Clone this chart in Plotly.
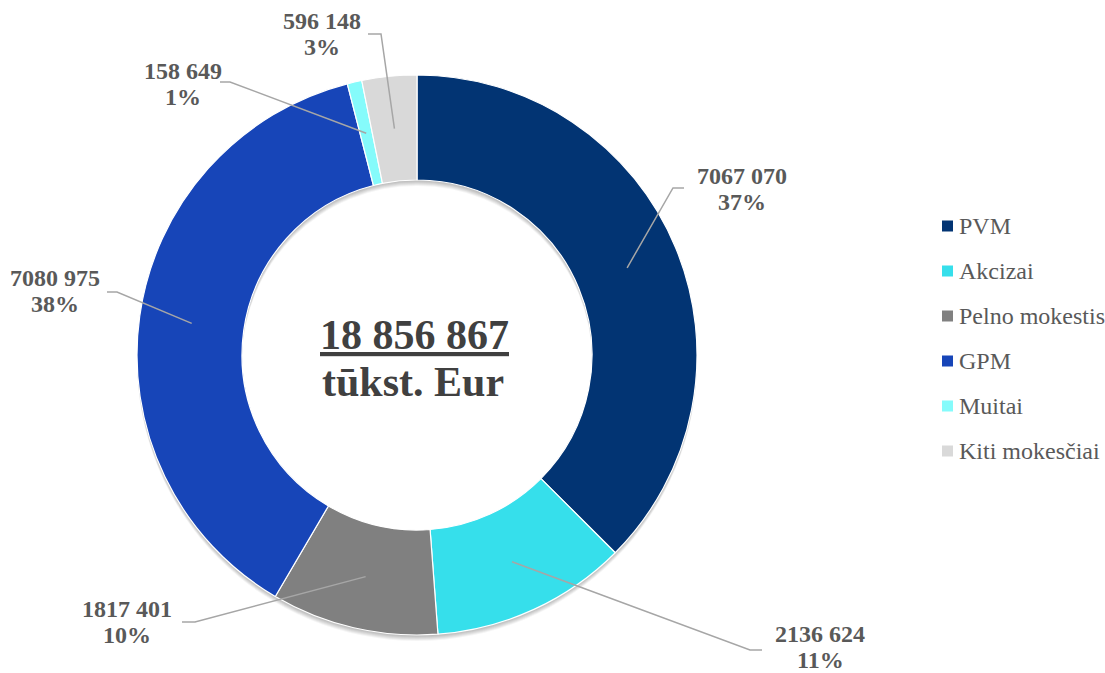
import math
import plotly.graph_objects as go

categories = ["PVM", "Akcizai", "Pelno mokestis", "GPM", "Muitai", "Kiti mokesčiai"]
values = [7067070, 2136624, 1817401, 7080975, 158649, 596148]
colors = ["#023473", "#36DFEB", "#808080", "#1745B8", "#85FBFB", "#D9D9D9"]
total_label = "18 856 867"
unit_label = "tūkst. Eur"

W, H = 1105, 673
CX, CY, R_OUT = 417, 355, 280
HOLE = 0.625

def px(x):
    return x / W

def py(y):
    return 1 - y / H

def fmt(v):
    s = str(v)
    return s[:-3] + " " + s[-3:]

total = sum(values)

fig = go.Figure()

# soft drop shadow layers
for dy, alpha in [(1, 0.05), (2, 0.05), (3, 0.05), (4, 0.05), (5, 0.05), (6, 0.04)]:
    fig.add_trace(go.Pie(
        labels=["shadow"], values=[1], hole=HOLE, sort=False,
        marker=dict(colors=[f"rgba(0,0,0,{alpha})"], line=dict(width=0)),
        textinfo="none", showlegend=False, hoverinfo="skip",
        domain=dict(x=[px(CX - R_OUT), px(CX + R_OUT)],
                    y=[py(CY + R_OUT + dy), py(CY - R_OUT + dy)]),
    ))

fig.add_trace(go.Pie(
    labels=categories, values=values, hole=HOLE, sort=False,
    direction="clockwise", rotation=0,
    marker=dict(colors=colors, line=dict(color="white", width=1.2)),
    textinfo="none", showlegend=False,
    domain=dict(x=[px(CX - R_OUT), px(CX + R_OUT)], y=[py(CY + R_OUT), py(CY - R_OUT)]),
))

# label layout: (label center x, y, elbow x, elbow y, end x)
label_layout = [
    (742, 189, 673, 188, 684),
    (820, 647, 750, 650, 762),
    (127, 622, 195, 622, 182),
    (55, 291, 117, 292, 107),
    (183, 84, 230, 82, 220),
    (322, 34, 381, 34, 368),
]

shapes = []
annotations = []
cum = 0
r_mid = R_OUT * (1 + HOLE) / 2
lab_font = dict(family="Liberation Serif", size=24, color="#595959")
for i, v in enumerate(values):
    frac_mid = (cum + v / 2) / total
    cum += v
    ang = 2 * math.pi * frac_mid
    sx = CX + r_mid * math.sin(ang)
    sy = CY - r_mid * math.cos(ang)
    lx, ly, ex, ey, endx = label_layout[i]
    path = f"M {px(sx)},{py(sy)} L {px(ex)},{py(ey)} L {px(endx)},{py(ey)}"
    shapes.append(dict(type="path", xref="paper", yref="paper", path=path,
                       line=dict(color="#A6A6A6", width=1.5)))
    pct = round(100 * v / total)
    annotations.append(dict(
        x=px(lx), y=py(ly - 13), xref="paper", yref="paper", showarrow=False,
        xanchor="center", yanchor="middle", text=f"<b>{fmt(v)}</b>", font=lab_font,
    ))
    annotations.append(dict(
        x=px(lx), y=py(ly + 13), xref="paper", yref="paper", showarrow=False,
        xanchor="center", yanchor="middle", text=f"<b>{pct}%</b>", font=lab_font,
    ))

# centre text
annotations.append(dict(
    x=px(CX - 3), y=py(335), xref="paper", yref="paper", showarrow=False,
    xanchor="center", yanchor="middle",
    text=f"<b><u>{total_label}</u></b>",
    font=dict(family="Liberation Serif", size=42, color="#404040"),
))
annotations.append(dict(
    x=px(CX - 4), y=py(382), xref="paper", yref="paper", showarrow=False,
    xanchor="center", yanchor="middle",
    text=f"<b>{unit_label}</b>",
    font=dict(family="Liberation Serif", size=42, color="#404040"),
))

# legend (manual)
LEG_X, LEG_Y0, LEG_DY, SQ = 942, 226, 45, 11
for i, name in enumerate(categories):
    yc = LEG_Y0 + i * LEG_DY
    shapes.append(dict(type="rect", xref="paper", yref="paper",
                       x0=px(LEG_X), x1=px(LEG_X + SQ), y0=py(yc + SQ / 2), y1=py(yc - SQ / 2),
                       fillcolor=colors[i], line=dict(width=0)))
    annotations.append(dict(
        x=px(LEG_X + SQ + 4), y=py(yc), xref="paper", yref="paper", showarrow=False,
        xanchor="left", yanchor="middle", text=name,
        font=dict(family="Liberation Serif", size=24, color="#595959"),
    ))

fig.update_layout(
    width=W, height=H, margin=dict(l=0, r=0, t=0, b=0),
    paper_bgcolor="white", plot_bgcolor="white",
    shapes=shapes, annotations=annotations,
)
fig.write_html("out.html", post_script="document.body.style.margin='0';",
               config={"displayModeBar": False})
